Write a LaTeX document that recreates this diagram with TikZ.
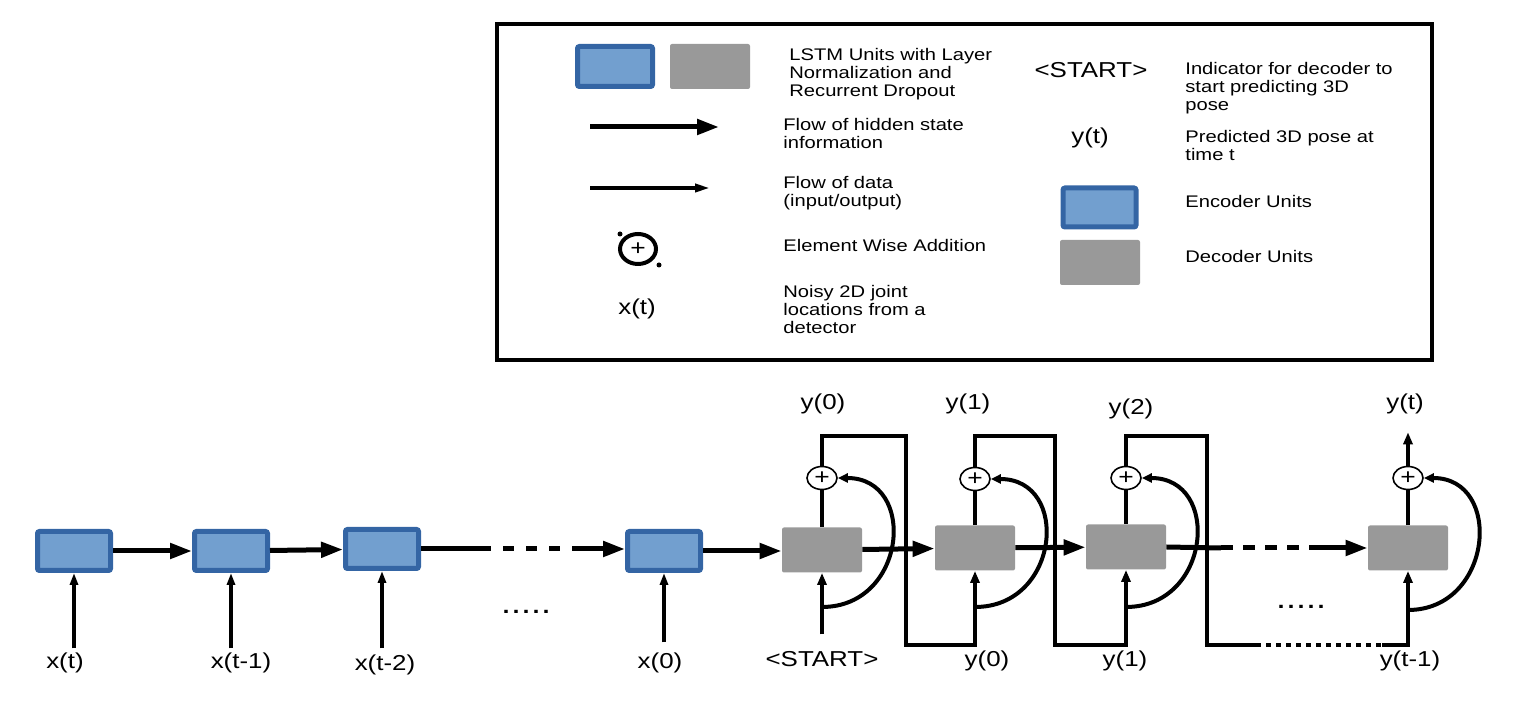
\documentclass[tikz,border=0pt]{standalone}
\usepackage{fontspec}
\setmainfont{Liberation Sans}[FakeStretch=1.2]
\usetikzlibrary{arrows.meta,positioning,shapes.geometric}
\definecolor{encfill}{RGB}{114,159,207}
\definecolor{encline}{RGB}{52,101,164}
\definecolor{decfill}{RGB}{153,153,153}

\begin{document}
\begin{tikzpicture}[x=0.5pt, y=-0.5pt,
  enc/.style={draw=encline, fill=encfill, line width=2.5pt, rounded corners=1pt, minimum width=36.5pt, minimum height=19.5pt, inner sep=0pt},
  dec/.style={fill=decfill, rounded corners=1pt, minimum width=40pt, minimum height=22.5pt, inner sep=0pt},
  sum/.style={draw, ellipse, line width=0.8pt, fill=white, minimum width=15pt, minimum height=11.5pt, inner sep=0pt, font=\fontsize{11}{11}\selectfont},
  lbl/.style={inner sep=0pt, text height=8pt, text depth=2.3pt, font=\fontsize{10.8}{13}\selectfont},
  txt/.style={anchor=west, align=left, inner sep=0pt, font=\fontsize{8.4}{9}\selectfont},
  hid/.style={line width=2.5pt, -{Triangle[length=11pt,width=7.5pt]}},
  din/.style={line width=2pt, -{Triangle[length=6pt,width=4.5pt]}},
  dat/.style={line width=1.8pt, -{Triangle[length=6pt,width=4pt]}},
  skp/.style={line width=2pt, -{Triangle[length=5pt,width=4.5pt]}},
  lp/.style={line width=2pt}]
  \useasboundingbox (0,0) rectangle (1516,704);

  % --- legend ---
  \draw[line width=2pt] (497,24) rectangle (1432,360);
  \node[enc, minimum width=37.5pt, minimum height=20pt] (lenc) at (615,66.5) {};
  \node[dec] (ldec) at (710,66.5) {};
  \node[txt] (tlstm) at (789,74) {LSTM Units with Layer\\Normalization and\\Recurrent Dropout};
  \coordinate (h0) at (590,127); \coordinate (h1) at (719,127);
  \draw[hid] (h0) -- (h1);
  \node[txt] (thid) at (783,134) {Flow of hidden state\\information};
  \coordinate (f0) at (590,188); \coordinate (f1) at (710,188);
  \draw[line width=1.8pt, -{Triangle[length=7.5pt,width=4pt]}] (f0) -- (f1);
  \node[txt] (tdat) at (783,193) {Flow of data\\(input/output)};
  \node[sum, line width=2pt, minimum width=18pt, minimum height=15pt] (lsum) at (638,249) {+};
  \node[circle, fill, inner sep=0pt, minimum size=2.5pt] (ldot1) at (620,234) {};
  \node[circle, fill, inner sep=0pt, minimum size=2.5pt] (ldot2) at (659,265) {};
  \node[txt] (tsum) at (783,246) {Element Wise Addition};
  \node[lbl] (lx) at (637,309) {x(t)};
  \node[txt] (tx) at (783,310) {Noisy 2D joint\\locations from a\\detector};

  \node[lbl] (lstart) at (1091,72) {<START>};
  \node[txt] (tstart) at (1185,88) {Indicator for decoder to\\start predicting 3D\\pose};
  \node[lbl] (ly) at (1090,138) {y(t)};
  \node[txt] (ty) at (1185,146) {Predicted 3D pose at\\time t};
  \node[enc] (lenc2) at (1099.5,207.5) {};
  \node[txt] (tenc) at (1185,202) {Encoder Units};
  \node[dec] (ldec2) at (1100,262.5) {};
  \node[txt] (tdec) at (1185,257) {Decoder Units};

  % --- encoder ---
  \node[enc] (e1) at (74,551) {};
  \node[enc] (e2) at (231,551) {};
  \node[enc] (e3) at (382,549) {};
  \node[enc] (e4) at (664,551) {};

  \node[lbl] (x1) at (65,663) {x(t)};
  \node[lbl] (x2) at (241,663) {x(t-1)};
  \node[lbl] (x3) at (385,665) {x(t-2)};
  \node[lbl] (x4) at (660,663) {x(0)};
  \draw[dat, shorten <=2pt] (x1.north -| e1.south) -- (e1.south);
  \draw[dat, shorten <=2pt] (x2.north -| e2.south) -- (e2.south);
  \draw[dat, shorten <=3pt] (x3.north -| e3.south) -- (e3.south);
  \draw[dat, shorten <=5pt] (x4.north -| e4.south) -- (e4.south);

  \draw[hid] (e1) -- (e2);
  \draw[hid] (e2) -- (e3);
  \coordinate (m1) at (480,549); \coordinate (m2) at (572,549);
  \draw[hid, -] (e3.east) -- (m1);
  \draw[hid, -, dash pattern=on 5.5pt off 6pt] (m1) -- (m2);
  \draw[hid] (m2) -- (m2 -| e4.west);
  \node[anchor=base, inner sep=0pt, font=\fontsize{15}{15}\selectfont] (dots1) at (526,614) {.....};

  % --- decoder ---
  \node[dec] (d1) at (822,550) {};
  \node[dec] (d2) at (975,548) {};
  \node[dec] (d3) at (1126,547) {};
  \node[dec] (d4) at (1408,548) {};
  \node[sum] (p1) at (822,478) {+};
  \node[sum] (p2) at (975,479) {+};
  \node[sum] (p3) at (1126,478) {+};
  \node[sum] (p4) at (1408,478) {+};

  \draw[hid] (e4) -- (e4 -| d1.west);
  \draw[hid] (d1) -- (d2);
  \draw[hid] (d2) -- (d3);
  \coordinate (m3) at (1221,548); \coordinate (m4) at (1317,548);
  \draw[hid, -] (d3.east) -- (m3);
  \draw[hid, -, dash pattern=on 6pt off 5pt] (m3) -- (m4);
  \draw[hid] (m4) -- (d4.west);
  \node[anchor=base, inner sep=0pt, font=\fontsize{15}{15}\selectfont] (dots2) at (1301,609) {.....};

  \foreach \i in {1,...,4}
    \draw[lp] (d\i.north) -- (p\i.south);

  % outputs fed back as next input
  \coordinate (t1) at (906,436); \coordinate (b1) at (906,645);
  \coordinate (t2) at (1055,436); \coordinate (b2) at (1055,645);
  \coordinate (t3) at (1207,436); \coordinate (b3) at (1207,645);
  \coordinate (m5) at (1256,645); \coordinate (m6) at (1382,645);
  \draw[din] (p1.north) |- (t1) -- (b1) -| (d2.south);
  \draw[din] (p2.north) |- (t2) -- (b2) -| (d3.south);
  \draw[lp] (p3.north) |- (t3) -- (b3) -- (m5);
  \draw[lp, dash pattern=on 2.5pt off 2.5pt] (m5) -- (m6);
  \draw[din] (m6) -| (d4.south);

  \node[lbl] (st) at (822,661) {<START>};
  \draw[din, shorten <=8pt] (st.north) -- (d1.south);

  % skip connections into the sums
  \coordinate (a1) at (822,607);
  \coordinate (a2) at (975,607);
  \coordinate (a3) at (1126,607);
  \coordinate (a4) at (1408,610);
  \foreach \i in {1,...,4}
    \draw[skp] (a\i) .. controls +(85,0) and +(80,0) .. (p\i.east);

  \node[lbl] (yt) at (1405,404) {y(t)};
  \draw[din, shorten >=8.8pt] (p4.north) -- (p4.north |- yt.south);

  % --- labels ---
  \node[lbl] (yo1) at (823,404) {y(0)};
  \node[lbl] (yo2) at (968,404) {y(1)};
  \node[lbl] (yo3) at (1131,409) {y(2)};
  \node[lbl] (yi2) at (987,661) {y(0)};
  \node[lbl] (yi3) at (1125,661) {y(1)};
  \node[lbl] (yi4) at (1410,661) {y(t-1)};
\end{tikzpicture}
\end{document}
